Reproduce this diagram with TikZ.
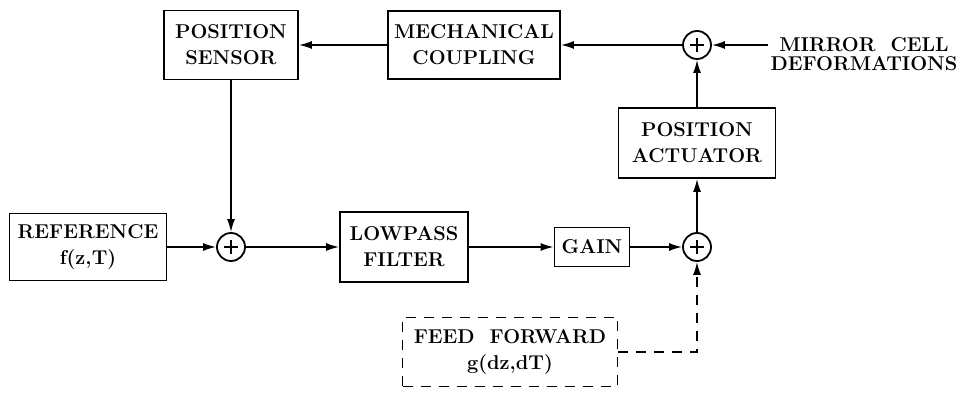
\documentclass[tikz,border=0pt]{standalone}
\usepackage{fontspec}
\usepackage{tikz}
\usetikzlibrary{arrows.meta,positioning,calc}
\tikzset{%
  block/.style={draw,line width=1.8pt,align=center,inner sep=2pt,font=\fontsize{20}{26}\selectfont\bfseries},
  sum/.style={draw,circle,line width=1.8pt,minimum size=28pt,inner sep=0pt,
    path picture={\draw[line width=2.2pt] ($(path picture bounding box.center)+(-7pt,0)$) -- ++(14pt,0)
      ($(path picture bounding box.center)+(0,-7pt)$) -- ++(0,14pt);}},
  arrow/.style={-{Latex[length=13pt,width=8pt]}, line width=1.5pt}%
}
\begin{document}
\begin{tikzpicture}[x=1pt,y=1pt,
    ffbox/.style={block,dashed,dash pattern=on 10pt off 8pt},
    label/.style={align=center,inner sep=0pt,font=\fontsize{20}{19}\selectfont\bfseries}
]
\useasboundingbox (0,0) rectangle (956,393);

% Feedback path (top row)
\node[block,minimum width=134pt,minimum height=69pt] (sensor) at (231,348) {POSITION\\SENSOR};
\node[block,minimum width=172pt,minimum height=68pt] (coupling) at (474,348) {MECHANICAL\\COUPLING};
\node[sum] (sumtop) at (697,348) {};
\node[label] (mirror) at (864,339) {MIRROR\ \ CELL\\DEFORMATIONS};
\node[block,minimum width=157pt,minimum height=70pt] (actuator) at (697,250) {POSITION\\ACTUATOR};

% Forward path (middle row)
\node[block,minimum width=157pt,minimum height=67pt] (reference) at (88,146) {REFERENCE\\f(z,T)};
\node[sum] (sumleft) at (231,146) {};
\node[block,minimum width=128pt,minimum height=70pt] (lowpass) at (404,146) {LOWPASS\\FILTER};
\node[block,minimum width=75pt,minimum height=39pt] (gain) at (592,146) {GAIN};
\node[sum] (sumlow) at (697,146) {};

% Feed forward
\node[ffbox,minimum width=215pt,minimum height=69pt] (ff) at (510,41) {FEED\ \ FORWARD\\g(dz,dT)};
\coordinate (ffcorner) at (697,41);

% Connections
\draw[arrow] ([xshift=-2pt]mirror.west |- sumtop) -- (sumtop);
\draw[arrow] (sumtop) -- (coupling);
\draw[arrow] (coupling) -- (sensor);
\draw[arrow] (sensor) -- (sumleft);
\draw[arrow] (reference) -- (sumleft);
\draw[arrow] (sumleft) -- (lowpass);
\draw[arrow] (lowpass) -- (gain);
\draw[arrow] (gain) -- (sumlow);
\draw[arrow] (sumlow) -- (actuator);
\draw[arrow] (actuator) -- (sumtop);
\draw[arrow,dashed,dash pattern=on 10pt off 8pt] (ff.east) -- (ffcorner) -- (sumlow);

\end{tikzpicture}
\end{document}
